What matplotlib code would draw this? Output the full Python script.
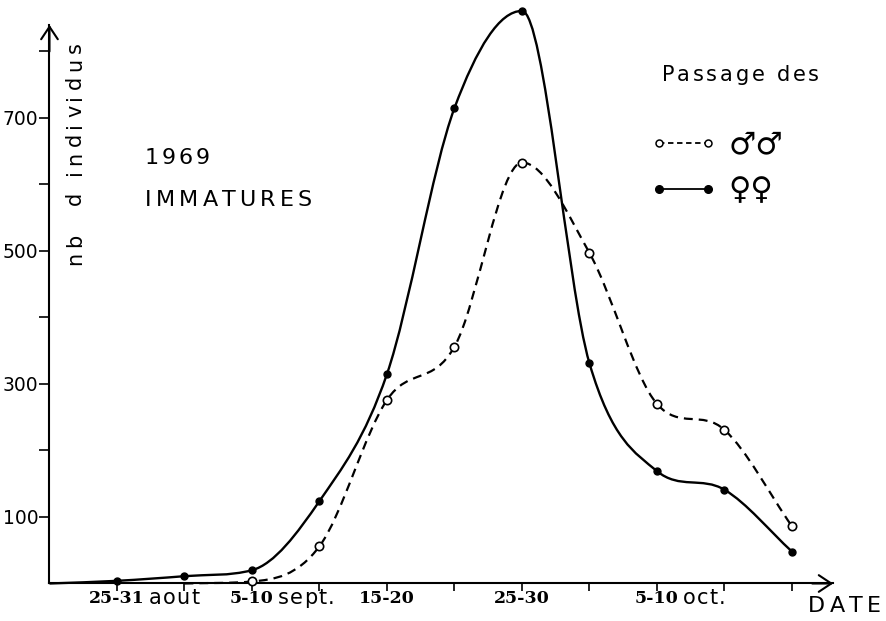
import numpy as np
import matplotlib
matplotlib.use('Agg')
from matplotlib import pyplot as plt
from matplotlib.path import Path
from matplotlib.patches import PathPatch
from matplotlib.lines import Line2D
from matplotlib.font_manager import FontProperties
from matplotlib.textpath import text_to_path

# periodes (5 jours), index 0..10
periods = np.arange(11)
period_labels = {0: ('25-31', 'aout'), 2: ('5-10', 'sept.'), 4: ('15-20', ''),
                 6: ('25-30', ''), 8: ('5-10', 'oct.')}
females = [4, 11, 20, 124, 315, 715, 861, 331, 169, 141, 48]
males = [0, 0, 3, 56, 276, 356, 633, 497, 270, 231, 86]
y_ticks = [100, 200, 300, 400, 500, 600, 700, 800]


def smooth_path(x, y):
    # courbe lissee (tangentes type Catmull-Rom, nulles aux extrema) en Bezier
    x = np.asarray(x, float)
    y = np.asarray(y, float)
    h = np.diff(x)
    d = np.diff(y) / h
    m = np.zeros_like(y)
    m[0], m[-1] = d[0], d[-1]
    for k in range(1, len(x) - 1):
        if d[k - 1] * d[k] > 0:
            s = (d[k - 1] + d[k]) / 2
            lim = 3 * min(abs(d[k - 1]), abs(d[k]))
            m[k] = np.sign(s) * min(abs(s), lim)
    verts = [(x[0], y[0])]
    codes = [Path.MOVETO]
    for k in range(len(x) - 1):
        verts += [(x[k] + h[k] / 3, y[k] + m[k] * h[k] / 3),
                  (x[k + 1] - h[k] / 3, y[k + 1] - m[k + 1] * h[k] / 3),
                  (x[k + 1], y[k + 1])]
        codes += [Path.CURVE4] * 3
    return Path(verts, codes)


def tracked(xy, s, size, track, xycoords='data', start=0.0, rot=False, family='DejaVu Sans'):
    # texte avec espacement des lettres (pas de letter-spacing dans matplotlib)
    fp = FontProperties(family=family, size=size)
    off = start
    for ch in s:
        ax.annotate(ch, xy, xycoords=xycoords, xytext=(0, off) if rot else (off, 0),
                    textcoords='offset points', fontproperties=fp,
                    rotation=90 if rot else 0, rotation_mode='anchor',
                    ha='left', va='center')
        off += text_to_path.get_text_width_height_descent(ch, fp, ismath=False)[0] + track


fig = plt.figure(figsize=(8.86, 6.21), dpi=100)
ax = fig.add_axes([0, 0, 1, 1])
ax.set_xlim(-1.733, 11.393)
ax.set_ylim(-56.4, 877.4)

x0 = -1  # origine des axes
for side in ['top', 'right']:
    ax.spines[side].set_visible(False)
ax.spines['left'].set_position(('data', x0))
ax.spines['bottom'].set_position(('data', 0))
ax.spines['left'].set_bounds(0, 840)
ax.spines['bottom'].set_bounds(x0, 10.61)
for side in ['left', 'bottom']:
    ax.spines[side].set_linewidth(1.5)
arrow = dict(arrowstyle='->,head_length=0.45,head_width=0.3', lw=1.5,
             mutation_scale=20, shrinkA=0, shrinkB=0, color='k')
ax.annotate('', xy=(10.61, 0), xytext=(10.3, 0), arrowprops=arrow)
ax.annotate('', xy=(x0, 840), xytext=(x0, 800), arrowprops=arrow)

ax.set_yticks(y_ticks)
ax.set_yticklabels([str(v) if v % 200 else '' for v in y_ticks], fontsize=13.5)
ax.set_xticks(periods)
ax.set_xticklabels([''] * len(periods))
ax.tick_params(axis='y', direction='out', length=7, width=1.2, pad=1)
ax.tick_params(axis='x', direction='out', length=6, width=1.2)

# femelles : trait plein, points noirs
ax.add_patch(PathPatch(smooth_path([x0] + list(periods), [0] + females),
                       fill=False, lw=1.7, ec='k'))
ax.plot(periods, females, 'o', color='k', ms=5, zorder=3)

# males : tirets, petits ronds
ax.add_patch(PathPatch(smooth_path(periods[1:], males[1:]), fill=False,
                       lw=1.6, ec='k', ls=(0, (4, 2.7))))
ax.plot(periods[2:], males[2:], 'o', mfc='white', mec='k', mew=1.2, ms=6, zorder=3)

# etiquettes de l'axe des dates
for i, (num, word) in period_labels.items():
    t = ax.text(i, -22, num, ha='center', va='center', fontsize=12.5,
                family='DejaVu Serif', fontweight='bold')
    if word:
        tracked((1, 0.5), word, 15, 1, xycoords=t, start=2.5)

tracked((10.24, -34), 'DATE', 16, 3)
tracked((-0.62, 479), 'nb  d individus', 15, 3.6, rot=True)
tracked((0.415, 640), '1969', 16, 2)
tracked((0.415, 577), 'IMMATURES', 16, 3)
tracked((8.07, 765), 'Passage des', 15, 2)

handles = [Line2D([], [], color='k', lw=1.3, ls=(0, (3, 2)), marker='o', ms=5,
                  mfc='white', mec='k', mew=1.1),
           Line2D([], [], color='k', lw=1.3, marker='o', ms=5.5)]
ax.legend(handles, ['♂♂', '♀♀'], numpoints=2, frameon=False, fontsize=22,
          handlelength=2.23, handletextpad=0.35, labelspacing=0.55,
          loc='upper left', bbox_to_anchor=(0.702, 0.834))

fig.savefig('out.png', dpi=100)
